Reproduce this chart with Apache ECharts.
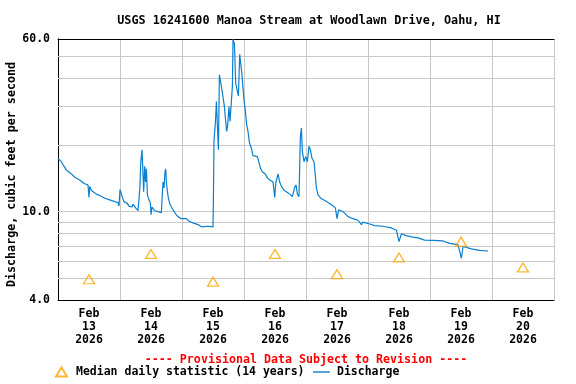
<!DOCTYPE html>
<html><head><meta charset="utf-8">
<script src="https://cdn.jsdelivr.net/npm/echarts@6/dist/echarts.min.js"></script>
<style>html,body{margin:0;padding:0;background:#fff}#c{width:576px;height:384px}</style>
</head><body><div id="c"></div>
<script>
// ---- text ----
const titleText = 'USGS 16241600 Manoa Stream at Woodlawn Drive, Oahu, HI';
const yAxisName = 'Discharge, cubic feet per second';
const provisionalText = '---- Provisional Data Subject to Revision ----';
const medianName = 'Median daily statistic (14 years)';
const dischargeName = 'Discharge';
const dayLabels = ['Feb\n13\n2026','Feb\n14\n2026','Feb\n15\n2026','Feb\n16\n2026','Feb\n17\n2026','Feb\n18\n2026','Feb\n19\n2026','Feb\n20\n2026'];
const yTickLabels = [4, 10, 60];
const gridValues = [5, 6, 7, 8, 9, 10, 20, 30, 40, 50];

// ---- median daily statistic (hours since 2026-02-13 00:00, cfs) ----
const medianHours = [12, 36, 60, 84, 108, 132, 156, 180];
const medianValues = [4.96, 6.45, 4.84, 6.45, 5.23, 6.22, 7.33, 5.61];

// ---- discharge (hours since 2026-02-13 00:00, cfs) ----
const dischargeHours = [0.00,1.28,1.94,3.25,5.19,6.46,8.40,10.06,11.61,12.00,12.27,12.93,13.94,14.86,16.41,18.08,20.01,21.95,23.23,23.61,
24.00,24.54,25.05,25.55,26.09,26.86,27.37,28.65,29.03,29.69,30.08,30.97,31.51,31.74,32.01,32.52,32.79,33.17,33.56,33.95,
34.22,34.61,35.23,35.77,36.00,36.39,36.77,37.43,38.71,40.03,40.26,40.65,41.03,41.42,41.69,41.96,42.35,42.74,43.24,43.90,
44.52,45.45,46.45,47.77,49.70,50.71,52.26,54.19,55.51,56.13,58.07,60.00,60.16,60.39,60.93,61.32,61.70,62.09,62.48,62.87,
63.25,63.87,64.41,64.92,65.30,65.69,66.19,66.58,67.12,67.51,67.74,68.28,68.79,69.29,69.83,70.34,70.72,71.11,71.50,72.00,
72.54,73.05,73.55,74.09,74.87,75.48,77.19,77.69,78.47,79.12,79.74,80.28,80.90,81.95,83.23,83.89,84.27,85.16,85.82,86.48,
87.48,88.41,89.69,90.74,91.63,92.13,92.67,93.29,93.83,94.22,94.61,95.23,95.89,96.54,97.16,97.70,98.32,99.10,99.64,100.03,
100.65,101.69,102.97,104.52,106.07,107.38,108.00,108.66,110.32,110.98,112.26,114.19,116.13,117.45,118.07,120.66,122.60,125.81,129.06,131.00,
132.00,132.93,134.87,136.80,139.36,141.95,145.16,149.03,151.63,154.84,156.16,156.78,160.03,163.24,166.45];
const dischargeValues = [17.4,16.8,16.3,15.4,14.8,14.3,13.9,13.4,13.2,11.6,13.0,12.5,12.2,12.0,11.8,11.5,11.3,11.1,11.0,10.6,
12.6,12.0,11.5,11.1,11.2,10.9,10.6,10.5,10.8,10.9,10.4,10.1,10.3,13.0,16.5,19.0,16.0,12.3,16.0,13.6,
15.6,11.9,11.3,10.9,9.7,10.5,10.5,10.1,10.0,9.9,11.3,13.6,12.8,15.1,15.6,13.6,12.3,11.5,10.9,10.5,
10.2,9.8,9.5,9.3,9.3,9.05,8.9,8.75,8.55,8.7,8.6,8.55,11.5,21.1,25.1,31.4,24.6,19.0,41.4,42.1,
36.7,37.3,29.8,25.5,23.0,24.6,29.8,25.5,26.0,36.7,59.8,57.2,37.9,37.3,33.2,51.2,46.6,42.7,37.3,31.8,
28.3,24.6,23.0,20.5,19.3,17.9,17.7,16.8,15.6,15.1,15.4,14.8,14.3,13.9,13.6,11.6,13.4,14.8,13.6,13.0,
12.5,12.3,12.0,11.7,12.9,13.2,12.0,11.7,21.8,23.8,18.6,16.8,17.7,16.8,19.7,19.0,17.4,16.8,14.4,12.8,
11.9,11.5,11.3,11.0,10.7,10.4,9.3,10.2,10.0,9.8,9.5,9.3,9.15,8.75,8.97,8.8,8.65,8.6,8.45,8.25,
7.33,7.95,7.8,7.7,7.62,7.45,7.43,7.38,7.2,7.1,6.17,6.97,6.8,6.7,6.65];

const FONT = 'DejaVu Sans Mono';
const txt = (size, color) => ({ fontFamily: FONT, fontWeight: 'bold', fontSize: size, color: color || '#000' });

const chart = echarts.init(document.getElementById('c'), null, { renderer: 'canvas' });
const yMin = 4, yMax = 60, xMin = 0, xMax = 192;
const LINE_BLUE = '#0a7fd0';

chart.setOption({
  animation: false,
  backgroundColor: '#fff',
  title: [
    { text: titleText, left: 304, top: 10, textAlign: 'center', textStyle: txt(11.8) },
    { text: provisionalText, left: 301, top: 349, textAlign: 'center', textStyle: txt(11.65, '#ff0000') }
  ],
  legend: [
    { data: [medianName], left: 55, top: 366, itemWidth: 11, itemHeight: 9, padding: 0,
      textStyle: Object.assign(txt(11.5), { padding: [0, 0, 0, 4] }) },
    { data: [{ name: dischargeName, icon: 'rect' }], left: 313, top: 366, itemWidth: 17, itemHeight: 1.4, padding: 0,
      textStyle: Object.assign(txt(11.5), { padding: [0, 0, 0, 2] }) }
  ],
  grid: { left: 58, top: 39, width: 496, height: 261, containLabel: false, outerBoundsMode: 'none' },
  xAxis: [
    { type: 'value', min: xMin, max: xMax, interval: 24, position: 'bottom',
      axisLine: { show: true, lineStyle: { color: '#000', width: 1 } },
      axisTick: { show: false }, axisLabel: { show: false },
      splitLine: { show: true, lineStyle: { color: '#c8c8c8', width: 1 } } },
    { type: 'category', data: dayLabels, boundaryGap: true, position: 'bottom',
      axisLine: { show: false }, axisTick: { show: false }, splitLine: { show: false },
      axisLabel: Object.assign(txt(11.5), { lineHeight: 13, margin: 8, interval: 0 }) },
    { type: 'value', min: xMin, max: xMax, position: 'top',
      axisLine: { show: true, lineStyle: { color: '#000', width: 1 } },
      axisTick: { show: false }, axisLabel: { show: false }, splitLine: { show: false } }
  ],
  yAxis: [
    { type: 'log', logBase: 10, min: yMin, max: yMax, position: 'left',
      name: yAxisName, nameLocation: 'middle', nameGap: 40, nameRotate: 90, nameMoveOverlap: false,
      nameTextStyle: Object.assign(txt(11.7), { padding: [0, 10, 0, 0] }),
      axisLine: { show: true, lineStyle: { color: '#000', width: 1 } },
      axisTick: { show: false }, splitLine: { show: false },
      axisLabel: Object.assign(txt(11.5), { margin: 8,
        formatter: v => yTickLabels.some(t => Math.abs(t - v) < 1e-6 * t) ? Number(v).toFixed(1) : '' }) },
    { type: 'log', logBase: 10, min: yMin, max: yMax, position: 'right',
      axisLine: { show: true, lineStyle: { color: '#000', width: 1 } },
      axisTick: { show: false }, axisLabel: { show: false }, splitLine: { show: false } }
  ],
  series: [
    { name: medianName, type: 'scatter', xAxisIndex: 0, yAxisIndex: 0, z: 4,
      symbol: 'triangle', symbolSize: [11, 9],
      itemStyle: { color: 'rgba(255,255,255,0)', borderColor: '#FFA500', borderWidth: 1.3 },
      data: medianHours.map((h, i) => [h, medianValues[i]]) },
    { name: dischargeName, type: 'line', xAxisIndex: 0, yAxisIndex: 0, z: 3,
      showSymbol: false, symbol: 'none',
      lineStyle: { color: LINE_BLUE, width: 1.2 }, itemStyle: { color: LINE_BLUE },
      data: dischargeHours.map((h, i) => [h, dischargeValues[i]]),
      markLine: { z: 1, silent: true, symbol: 'none', label: { show: false },
        lineStyle: { color: '#c8c8c8', width: 1, type: 'solid' },
        emphasis: { disabled: true },
        data: gridValues.map(v => ({ yAxis: v })) } }
  ]
});
</script></body></html>
